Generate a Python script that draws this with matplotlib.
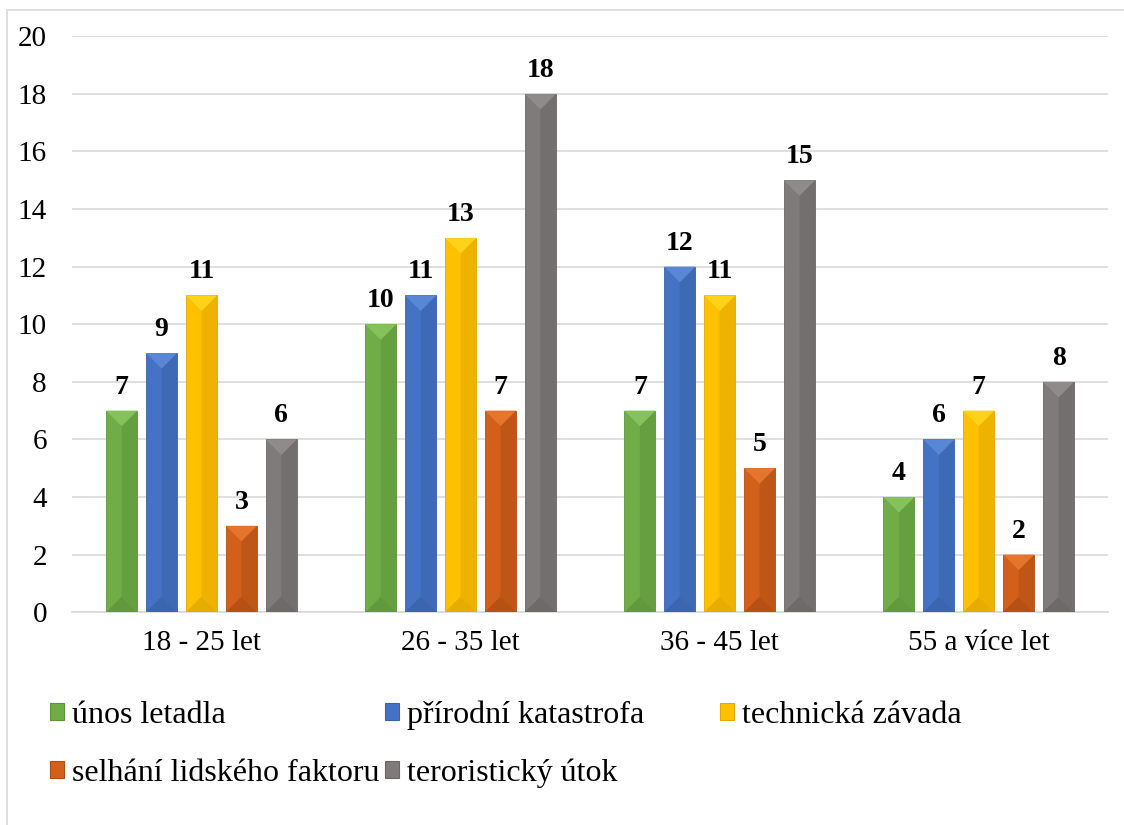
import matplotlib
matplotlib.use("Agg")
import matplotlib.pyplot as plt
from matplotlib.patches import Polygon, Rectangle, Patch
import numpy as np

plt.rcParams["font.family"] = ["Liberation Serif", "DejaVu Serif"]

categories = ["18 - 25 let", "26 - 35 let", "36 - 45 let", "55 a více let"]
series = ["únos letadla", "přírodní katastrofa", "technická závada",
          "selhání lidského faktoru", "teroristický útok"]
unos = [7, 10, 7, 4]
prirodni = [9, 11, 12, 6]
technicka = [11, 13, 11, 7]
selhani = [3, 7, 5, 2]
teror = [6, 18, 15, 8]
values = [unos, prirodni, technicka, selhani, teror]

# base, light (top cap), dark (right half / bottom)
colors = [("#70AD47", "#86C25C", "#5E953A"),
          ("#4472C4", "#5A86D6", "#3A62AA"),
          ("#FFC000", "#FFD21A", "#E0A800"),
          ("#D2601A", "#E5742C", "#AF4E12"),
          ("#7F7B7A", "#8F8B8A", "#6A6665")]

fig = plt.figure(figsize=(11.24, 8.25), dpi=100)
ax = fig.add_axes([0.064, 0.258, 0.922, 0.698])

x = np.arange(len(categories))
width = 0.12
step = 0.154
ax.set_ylim(0, 20)
ax.set_xlim(-0.5, len(categories) - 0.5)

# pixel scale, used for the bevel depth
px_per_x = 0.922 * 1124 / len(categories)
px_per_y = 0.698 * 825 / 20.0

for i, (vals, (base, light, dark)) in enumerate(zip(values, colors)):
    bars = ax.bar(x + (i - 2) * step, vals, width, color=base, zorder=3,
                  edgecolor=dark, linewidth=0.6)
    for b, v in zip(bars, vals):
        x0 = b.get_x()
        w = b.get_width()
        x1 = x0 + w
        xm = x0 + w / 2
        h = b.get_height()
        d = min((w * px_per_x / 2) / px_per_y, h / 2)
        ax.add_patch(Polygon([(xm, d), (x1, 0), (x1, h), (xm, h - d)],
                             closed=True, facecolor=dark, alpha=0.55,
                             lw=0, zorder=4))
        ax.add_patch(Polygon([(x0, h), (x1, h), (xm, h - d)], closed=True,
                             facecolor=light, lw=0, zorder=4))
        ax.add_patch(Polygon([(x0, 0), (x1, 0), (xm, d)], closed=True,
                             facecolor=dark, alpha=0.8, lw=0, zorder=4))
        ax.text(xm, h + 0.38, str(v), ha="center", va="bottom",
                fontsize=20, fontweight="bold", zorder=5)

ax.set_yticks(range(0, 21, 2))
ax.set_xticks(x)
ax.set_xticklabels(categories)
ax.tick_params(axis="both", length=0, labelsize=21)
ax.tick_params(axis="x", pad=13)
ax.tick_params(axis="y", pad=18)
ax.grid(axis="y", color="#D9D9D9", linewidth=1.2, zorder=0)
for s in ["top", "right", "left"]:
    ax.spines[s].set_visible(False)
ax.spines["bottom"].set_color("#D9D9D9")
ax.spines["bottom"].set_linewidth(1.2)

# legend, entries placed on the original's grid
pos = [(0.0445, 0.133), (0.3425, 0.133), (0.6406, 0.133),
       (0.0445, 0.063), (0.3425, 0.063)]
for name, (base, light, dark), (lx, ly) in zip(series, colors, pos):
    h = Patch(facecolor=base, edgecolor=dark, linewidth=0.8)
    fig.legend(handles=[h], labels=[name], loc="center left",
               bbox_to_anchor=(lx, ly), frameon=False, fontsize=23,
               handlelength=0.45, handleheight=0.45, handletextpad=0.25,
               borderpad=0, borderaxespad=0)

# outer chart border
fig.add_artist(Rectangle((0.006, -0.01), 1.0, 0.998, transform=fig.transFigure,
                         fill=False, edgecolor="#D9D9D9", linewidth=1.2))

fig.savefig("out.png", dpi=100)
